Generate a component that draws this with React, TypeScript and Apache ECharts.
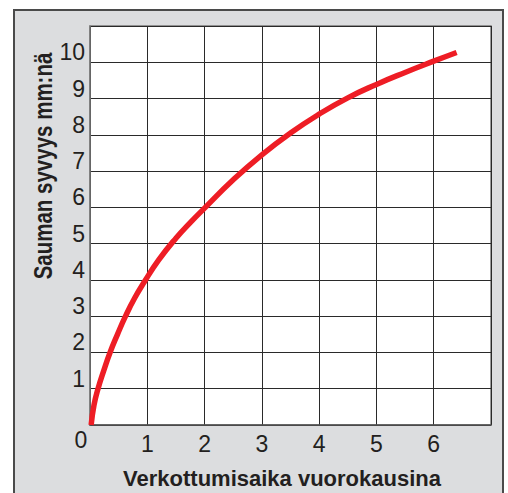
import React, { useEffect, useRef } from "react";
import * as echarts from "echarts";

const xTicks = [0, 1, 2, 3, 4, 5, 6, 7];
const yTicks = [0, 1, 2, 3, 4, 5, 6, 7, 8, 9, 10, 11];
const curveX = [0.02, 0.07, 0.14, 0.24, 0.35, 0.48, 0.62, 0.78, 0.95, 1.2, 1.5, 1.75, 2.0, 2.5, 3.0, 3.5, 4.0, 4.5, 5.0, 5.5, 6.0, 6.4];
const curveY = [0, 0.55, 1, 1.5, 2, 2.5, 3, 3.5, 3.95, 4.55, 5.15, 5.58, 5.98, 6.76, 7.45, 8.05, 8.57, 9.02, 9.39, 9.72, 10.03, 10.27];
const xTitle = "Verkottumisaika vuorokausina";
const yTitle = "Sauman syvyys mm:nä";
const originLabel = "0";

const FONT = "'Liberation Sans', Arial, Helvetica, sans-serif";

export default function App() {
  const ref = useRef<HTMLDivElement>(null);
  useEffect(() => {
    if (!ref.current) return;
    const chart = echarts.init(ref.current, null, { renderer: "svg" });
    const data = curveX.map((x, i) => [x, curveY[i]]);
    chart.setOption({
      animation: false,
      backgroundColor: "#ffffff",
      graphic: [
        {
          type: "rect",
          z: -10,
          shape: { x: 14, y: 10, width: 489, height: 500 },
          style: { fill: "#dcdddf", stroke: "#4a4a4a", lineWidth: 2 },
        },
        {
          type: "text",
          x: 282,
          y: 478.5,
          style: {
            text: xTitle,
            font: `bold 22px ${FONT}`,
            fill: "#231f20",
            align: "center",
            verticalAlign: "middle",
          },
        },
        {
          type: "text",
          x: 43,
          y: 166,
          rotation: Math.PI / 2,
          scaleX: 0.82,
          scaleY: 1,
          style: {
            text: yTitle,
            font: `bold 25px ${FONT}`,
            fill: "#231f20",
            align: "center",
            verticalAlign: "middle",
          },
        },
        {
          type: "text",
          x: 81,
          y: 440,
          style: {
            text: originLabel,
            font: `23px ${FONT}`,
            fill: "#231f20",
            align: "center",
            verticalAlign: "middle",
          },
        },
      ],
      grid: {
        left: 90,
        top: 26,
        right: 17,
        bottom: 68,
        show: true,
        backgroundColor: "#ffffff",
        borderColor: "#7a7a7a",
        borderWidth: 1.5,
      },
      xAxis: {
        type: "value",
        min: xTicks[0],
        max: xTicks[xTicks.length - 1],
        interval: 1,
        axisLine: { show: true, lineStyle: { color: "#555", width: 1.5 } },
        axisTick: { show: false },
        splitLine: { show: true, lineStyle: { color: "#2a2a2a", width: 1 } },
        axisLabel: {
          fontSize: 23,
          fontFamily: FONT,
          color: "#231f20",
          margin: 7,
          formatter: (v: number) => (v === 0 || v === 7 ? "" : String(v)),
        },
      },
      yAxis: {
        type: "value",
        min: yTicks[0],
        max: yTicks[yTicks.length - 1],
        interval: 1,
        axisLine: { show: true, lineStyle: { color: "#7a7a7a", width: 1.5 } },
        axisTick: { show: false },
        splitLine: { show: true, lineStyle: { color: "#2a2a2a", width: 1 } },
        axisLabel: {
          fontSize: 23,
          fontFamily: FONT,
          color: "#231f20",
          margin: 5,
          verticalAlign: "bottom",
          lineHeight: 20,
          formatter: (v: number) => (v === 0 || v === 11 ? "" : String(v)),
        },
      },
      series: [
        {
          type: "line",
          data,
          smooth: 0.5,
          showSymbol: false,
          symbol: "none",
          lineStyle: { color: "#ee1d25", width: 5.5, cap: "butt" },
          z: 5,
        },
      ],
    });
    return () => chart.dispose();
  }, []);
  return (
    <div
      ref={ref}
      style={{ position: "fixed", left: 0, top: 0, width: 508, height: 493 }}
    />
  );
}
